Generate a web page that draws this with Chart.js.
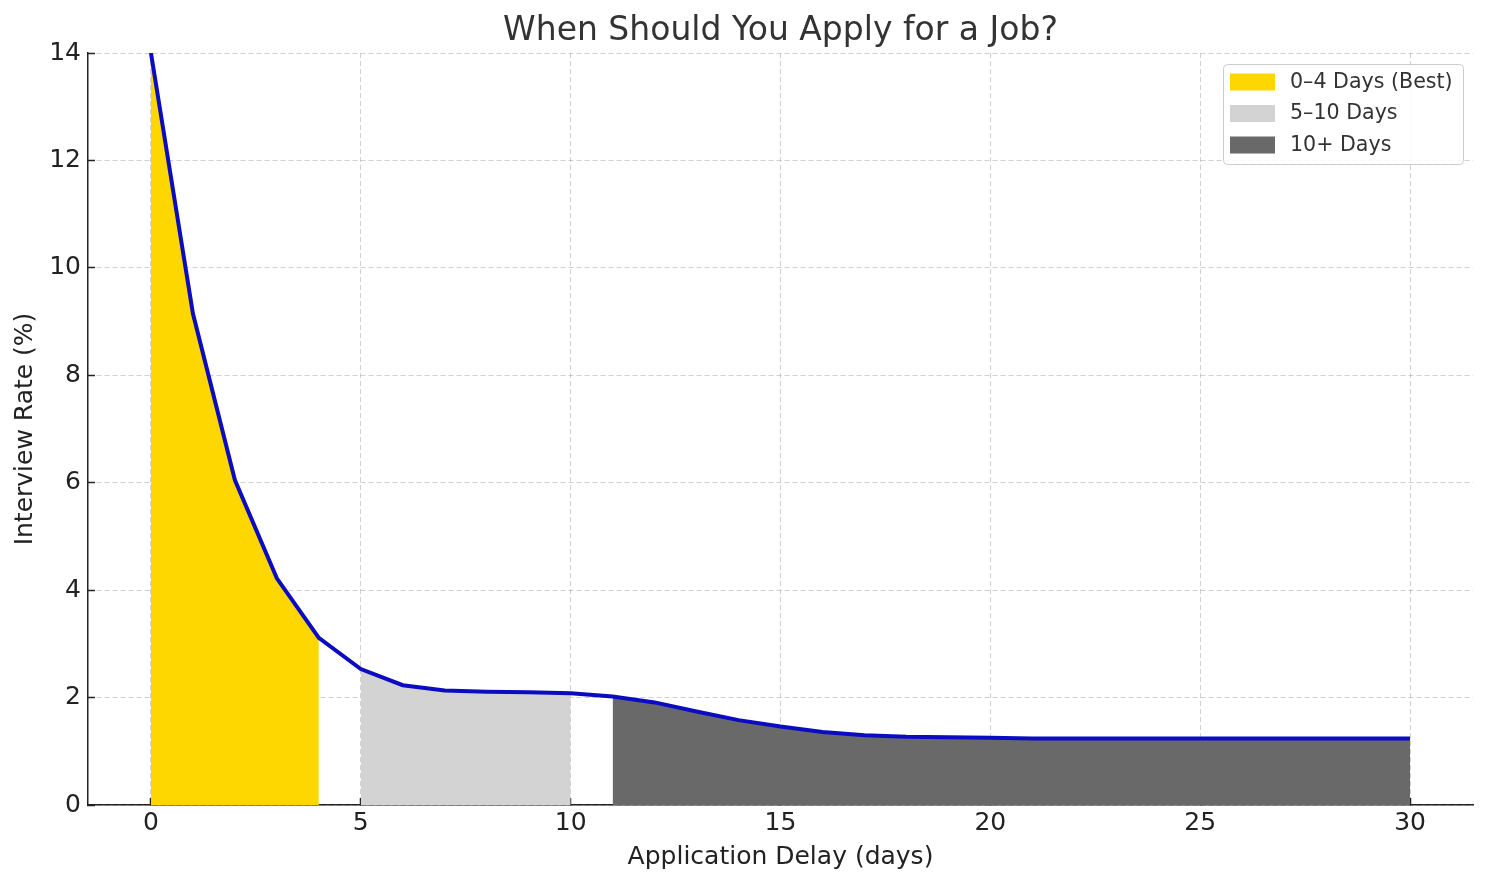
<!DOCTYPE html>
<html>
<head>
<meta charset="utf-8">
<title>When Should You Apply for a Job?</title>
<script src="https://cdn.jsdelivr.net/npm/chart.js@4.4.1/dist/chart.umd.min.js"></script>
<style>
  html, body { margin: 0; padding: 0; background: #fff; }
  #wrap { width: 1488px; height: 886px; }
</style>
</head>
<body>
<div id="wrap"><canvas id="jobChart" width="1488" height="886"></canvas></div>
<script>
// Interview rate by days waited before applying
const days = [0, 1, 2, 3, 4, 5, 6, 7, 8, 9, 10, 11, 12, 13, 14, 15, 16, 17, 18, 19, 20,
              21, 22, 23, 24, 25, 26, 27, 28, 29, 30];
const rates = [14.0, 9.15, 6.05, 4.22, 3.11, 2.53, 2.23, 2.13, 2.11, 2.10, 2.08, 2.02, 1.91, 1.74, 1.58, 1.46,
               1.36, 1.30, 1.27, 1.26, 1.25, 1.24, 1.24, 1.24, 1.24, 1.24, 1.24, 1.24, 1.24, 1.24, 1.24];

// shaded bands under the curve
const bandLabels = ['0–4 Days (Best)', '5–10 Days', '10+ Days'];
const bandStart = [0, 5, 11];
const bandEnd = [4, 10, 30];
const bandColors = ['#ffd700', '#d3d3d3', '#696969'];

const xTicks = [0, 5, 10, 15, 20, 25, 30];
const yTicks = [0, 2, 4, 6, 8, 10, 12, 14];

Chart.defaults.font.family = "'DejaVu Sans', sans-serif";

const points = days.map((d, i) => ({ x: d, y: rates[i] }));

const bandSets = bandLabels.map((label, i) => ({
    label: label,
    data: points.filter(p => p.x >= bandStart[i] && p.x <= bandEnd[i]),
    backgroundColor: bandColors[i],
    borderWidth: 0,
    pointRadius: 0,
    fill: 'origin',
    tension: 0
}));

// legend box drawn in the upper right of the plot, like the original
const boxLegend = {
    id: 'boxLegend',
    afterDraw(chart) {
        const { ctx, chartArea } = chart;
        const w = 240, h = 100;
        const x = chartArea.right - 10 - w;
        const y = chartArea.top + 11;
        ctx.save();
        ctx.beginPath();
        ctx.roundRect(x + 0.5, y + 0.5, w, h, 4);
        ctx.fillStyle = 'rgba(255,255,255,0.85)';
        ctx.fill();
        ctx.strokeStyle = '#cccccc';
        ctx.lineWidth = 1;
        ctx.stroke();
        ctx.font = "20.6px 'DejaVu Sans'";
        ctx.textBaseline = 'middle';
        bandLabels.forEach((label, i) => {
            const rowY = y + 18.5 + i * 31.5;
            ctx.fillStyle = bandColors[i];
            ctx.fillRect(x + 7, rowY - 9, 45, 17);
            ctx.fillStyle = '#333333';
            ctx.fillText(label, x + 67, rowY);
        });
        ctx.restore();
    }
};

const gridOpts = {
    color: 'rgba(150,150,150,0.45)',
    lineWidth: 1,
    tickColor: '#222222',
    tickLength: -7,
    tickWidth: 1.5
};

const ctx = document.getElementById('jobChart').getContext('2d');
const jobChart = new Chart(ctx, {
    type: 'line',
    data: {
        datasets: [{
            label: 'Interview Rate',
            data: points,
            borderColor: '#0b0bc2',
            borderWidth: 4,
            pointRadius: 0,
            fill: false,
            tension: 0
        }].concat(bandSets)
    },
    options: {
        responsive: false,
        animation: false,
        devicePixelRatio: 1,
        layout: { padding: { left: 0, right: 15, top: 0, bottom: 0 } },
        plugins: {
            legend: { display: false },
            tooltip: { enabled: false },
            title: {
                display: true,
                fullSize: false,
                text: 'When Should You Apply for a Job?',
                color: '#333333',
                font: { size: 33, weight: 'normal' },
                padding: { top: 12, bottom: 1.4 }
            }
        },
        scales: {
            x: {
                type: 'linear',
                min: -1.5,
                max: 31.5,
                z: 1,
                afterBuildTicks: s => { s.ticks = xTicks.map(v => ({ value: v })); },
                afterFit: s => { s.height = 81; },
                grid: gridOpts,
                border: { display: true, color: '#222222', width: 1.5, dash: [5, 3] },
                ticks: { color: '#222222', font: { size: 25 }, padding: 10, maxRotation: 0 },
                title: {
                    display: true,
                    text: 'Application Delay (days)',
                    color: '#222222',
                    font: { size: 25 },
                    padding: { top: 0, bottom: 14 }
                }
            },
            y: {
                min: 0,
                max: 14,
                z: 1,
                afterBuildTicks: s => { s.ticks = yTicks.map(v => ({ value: v })); },
                afterFit: s => { s.width = 88; },
                grid: gridOpts,
                border: { display: true, color: '#222222', width: 1.5, dash: [5, 3] },
                ticks: { color: '#222222', font: { size: 25 }, padding: 14 },
                title: {
                    display: true,
                    text: 'Interview Rate (%)',
                    color: '#222222',
                    font: { size: 25 },
                    padding: { top: 10, bottom: 0 }
                }
            }
        }
    },
    plugins: [boxLegend]
});
</script>
</body>
</html>
